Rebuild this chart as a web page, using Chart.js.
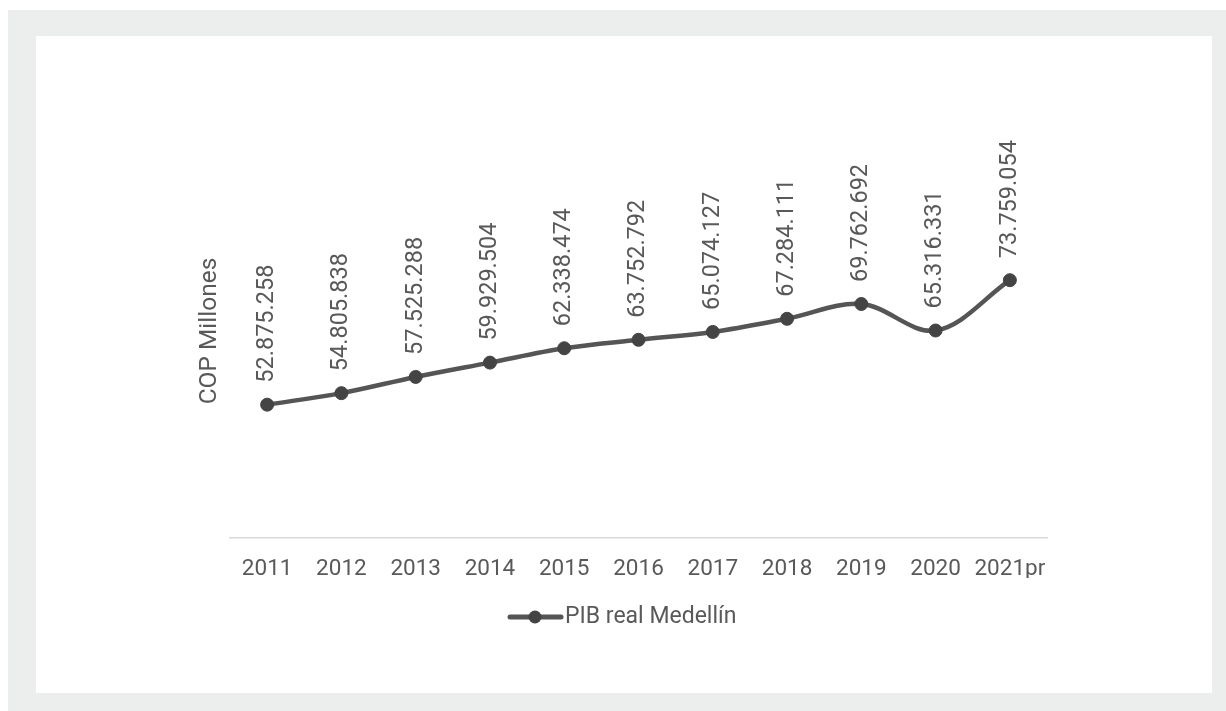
<!DOCTYPE html>
<html>
<head>
<meta charset="utf-8">
<script src="https://cdn.jsdelivr.net/npm/chart.js@4/dist/chart.umd.min.js"></script>
<style>
    html, body { margin: 0; padding: 0; background: #ffffff; }
    #frame { position: absolute; left: 8px; top: 10px; width: 1218px; height: 701px; background: #eceeed; }
    #panel { position: absolute; left: 36px; top: 36px; width: 1176px; height: 657px; background: #ffffff; }
    #chart { display: block; }
</style>
</head>
<body>
<div id="frame"></div>
<div id="panel"><canvas id="chart" width="1176" height="657"></canvas></div>
<script>
const years = ["2011", "2012", "2013", "2014", "2015", "2016", "2017", "2018", "2019", "2020", "2021pr"];
const pibValues = [52875258, 54805838, 57525288, 59929504, 62338474, 63752792, 65074127, 67284111, 69762692, 65316331, 73759054];
const seriesName = "PIB real Medellín";
const axisTitle = "COP Millones";

const textColor = "#595959";
const lineColor = "#555555";
const fontFamily = "Roboto";

function formatValue(v) {
    return String(v).replace(/\B(?=(\d{3})+(?!\d))/g, ".");
}

const decorations = {
    id: "decorations",
    afterDatasetsDraw(chart) {
        const ctx = chart.ctx;
        const meta = chart.getDatasetMeta(0);
        ctx.save();
        ctx.fillStyle = textColor;
        ctx.font = "23.5px " + fontFamily;
        ctx.textAlign = "left";
        ctx.textBaseline = "middle";
        meta.data.forEach((pt, i) => {
            ctx.save();
            ctx.translate(pt.x, pt.y - 22);
            ctx.rotate(-Math.PI / 2);
            ctx.fillText(formatValue(pibValues[i]), 0, 0);
            ctx.restore();
        });

        // axis title
        ctx.save();
        ctx.font = "24.5px " + fontFamily;
        ctx.translate(174, 295);
        ctx.rotate(-Math.PI / 2);
        ctx.textAlign = "center";
        ctx.fillText(axisTitle, 0, 0);
        ctx.restore();

        // legend
        const ly = 581;
        ctx.font = "23px " + fontFamily;
        ctx.strokeStyle = lineColor;
        ctx.lineWidth = 5;
        ctx.lineCap = "round";
        ctx.beginPath();
        ctx.moveTo(474, ly);
        ctx.lineTo(525, ly);
        ctx.stroke();
        ctx.beginPath();
        ctx.arc(499, ly, 6.5, 0, Math.PI * 2);
        ctx.fillStyle = "#444444";
        ctx.fill();
        ctx.fillStyle = textColor;
        ctx.textAlign = "left";
        ctx.fillText(seriesName, 529, ly);
        ctx.restore();
    }
};

new Chart(document.getElementById("chart"), {
    type: "line",
    data: {
        labels: years,
        datasets: [{
            label: seriesName,
            data: pibValues,
            borderColor: lineColor,
            borderWidth: 4.5,
            tension: 0.35,
            pointRadius: 6.5,
            pointBackgroundColor: "#444444",
            pointBorderColor: "#444444",
            pointBorderWidth: 1
        }]
    },
    options: {
        responsive: false,
        animation: false,
        events: [],
        layout: {
            padding: { left: 194, right: 165, top: 207, bottom: 115 }
        },
        scales: {
            x: {
                offset: true,
                grid: { display: false, drawTicks: false },
                border: { display: true, color: "#d9d9d9", width: 1.5 },
                ticks: {
                    padding: 18,
                    color: textColor,
                    autoSkip: false,
                    maxRotation: 0,
                    minRotation: 0,
                    font: { family: fontFamily, size: 22.5 }
                },
                afterFit(scale) {
                    scale.height = 40;
                }
            },
            y: {
                display: false,
                min: 30500000,
                max: 80000000
            }
        },
        plugins: {
            legend: { display: false },
            tooltip: { enabled: false }
        }
    },
    plugins: [decorations]
});
</script>
</body>
</html>
